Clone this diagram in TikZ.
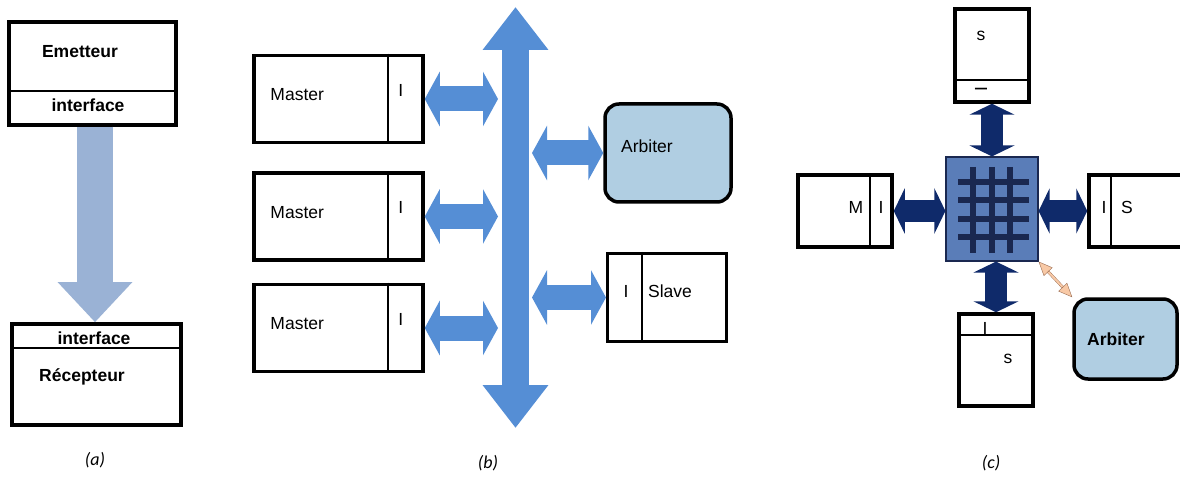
\documentclass[tikz,border=0pt]{standalone}
\usepackage{fontspec}
\setmainfont{Liberation Sans}
\newfontfamily\capfont{Carlito}
\usetikzlibrary{arrows.meta,positioning}

\definecolor{flowblue}{HTML}{9AB2D5}
\definecolor{busblue}{HTML}{558ED5}
\definecolor{arbblue}{HTML}{B0CEE2}
\definecolor{xbarblue}{HTML}{5A7DB8}
\definecolor{navy}{HTML}{0F2A6A}
\definecolor{barnavy}{HTML}{1A2850}
\definecolor{peach}{HTML}{F8C9A6}
\definecolor{tiebrown}{HTML}{9A6B50}

\begin{document}
\begin{tikzpicture}[x=1pt,y=-1pt]
    \tikzstyle{unit}=[draw,line width=3.5pt,inner sep=0pt]
    \tikzstyle{arb}=[unit,rounded corners=14pt,fill=arbblue]
    \tikzstyle{divider}=[line width=2pt]
    \tikzstyle{lbl}=[inner sep=0pt,font=\fontsize{17.5}{20}\selectfont]
    \tikzstyle{blbl}=[inner sep=0pt,font=\fontsize{17.5}{20}\selectfont\bfseries]
    \tikzstyle{subcap}=[font=\capfont\fontsize{18}{21}\selectfont\itshape]
    \tikzstyle{flow}=[draw=flowblue,line width=36pt,-{Triangle[length=40pt,width=72pt]}]
    \tikzstyle{bus}=[draw=busblue,line width=27pt,{Triangle[length=43pt,width=63pt]}-{Triangle[length=43pt,width=63pt]}]
    \tikzstyle{link}=[draw=busblue,line width=25pt,{Triangle[length=15pt,width=54pt]}-{Triangle[length=15pt,width=54pt]}]
    \tikzstyle{xlink}=[draw=navy,line width=22pt,{Triangle[length=11pt,width=45pt]}-{Triangle[length=11pt,width=45pt]}]
    \tikzstyle{bar}=[draw=barnavy,line width=6pt]
    \tikzstyle{tie}=[draw=tiebrown,double=peach,double distance=2pt,{Triangle[length=14pt,width=12pt,fill=peach]}-{Triangle[length=14pt,width=12pt,fill=peach]}]

    \useasboundingbox (0,0) rectangle (1180,478);

    % (a) point to point
    \begin{scope}
      \node[unit,minimum width=167pt,minimum height=103pt](emet) at (92.5,73.5){};
      \node[unit,minimum width=169pt,minimum height=101pt](recep) at (96.5,374.5){};
      \draw[divider] ([yshift=36pt]emet.south west) -- ([yshift=36pt]emet.south east);
      \draw[divider] ([yshift=-26pt]recep.north west) -- ([yshift=-26pt]recep.north east);
      \node[blbl](emetname) at (80,52){Emetteur};
      \node[blbl](emetif) at (88,105){interface};
      \node[blbl](recepif) at (94,338.5){interface};
      \node[blbl](recepname) at (82,377){Récepteur};

      \draw[flow] ([xshift=2.5pt]emet.south) -- ([xshift=2.5pt]emet.south |- recep.north);

      \node[subcap](capa) at (95,460){(a)};
    \end{scope}

    % (b) shared bus
    \begin{scope}
      \coordinate (bustop) at (515.5,7);
      \coordinate (busbot) at (515.5,428);
      \coordinate (busL) at (498,0);
      \coordinate (busR) at (532,0);
      \draw[bus] (bustop) -- (busbot);

      \node[unit,minimum width=169pt,minimum height=87pt](m1) at (338.5,99){};
      \node[unit,minimum width=169pt,minimum height=87pt,below=27pt of m1](m2){};
      \node[unit,minimum width=169pt,minimum height=87pt,below=21pt of m2](m3){};
      \foreach \m in {m1,m2,m3} {
        \draw[divider] ([xshift=-37pt]\m.north east) -- ([xshift=-37pt]\m.south east);
        \node[lbl,anchor=west,yshift=4pt](\m name) at ([xshift=18pt]\m.west){Master};
        \node[lbl,yshift=9pt](\m if) at ([xshift=-24pt]\m.east){I};
        \draw[link] (\m.east) -- (\m.east -| busL);
      }

      \node[arb,minimum width=126pt,minimum height=98pt](arbb) at (668,153){};
      \node[lbl,anchor=west](arbbname) at (621,146){Arbiter};
      \node[unit,line width=3pt,minimum width=119pt,minimum height=88pt](slave) at (667,297.5){};
      \draw[divider] ([xshift=35.5pt]slave.north west) -- ([xshift=35.5pt]slave.south west);
      \node[lbl](slaveif) at (626,291){I};
      \node[lbl](slavename) at (670,291){Slave};

      \draw[link] (arbb.west -| busR) -- (arbb.west);
      \draw[link] (slave.west -| busR) -- (slave.west);

      \node[subcap](capb) at (488,463){(b)};
    \end{scope}

    % (c) crossbar
    \begin{scope}
      \node[draw=barnavy,line width=1.2pt,fill=xbarblue,minimum width=92pt,minimum height=104pt](xbar) at (992,209){};
      \foreach \x in {973,992,1010}
        \draw[bar] (\x,167) -- (\x,253);
      \foreach \y in {182,200,219,237}
        \draw[bar] (958,\y) -- (1029,\y);

      \node[unit,minimum width=74pt,minimum height=93pt](topbox) at (992,55.5){};
      \draw[divider] ([yshift=24pt]topbox.south west) -- ([yshift=24pt]topbox.south east);
      \node[lbl](topname) at (981,36){s};
      \node[lbl,rotate=90](topif) at (981,89){I};

      \node[unit,minimum width=94pt,minimum height=72pt](lbox) at (845,211){};
      \draw[divider] ([xshift=-24pt]lbox.north east) -- ([xshift=-24pt]lbox.south east);
      \node[lbl](lname) at (856,207){M};
      \node[lbl](lif) at (881,207){I};

      \node[unit,minimum width=102pt,minimum height=72pt](rbox) at (1140,211){};
      \draw[divider] ([xshift=24pt]rbox.north west) -- ([xshift=24pt]rbox.south west);
      \node[lbl](rif) at (1104,207){I};
      \node[lbl](rname) at (1127,207){S};

      \node[unit,minimum width=74pt,minimum height=92pt](botbox) at (996,360){};
      \draw[divider] ([yshift=-23pt]botbox.north west) -- ([yshift=-23pt]botbox.north east);
      \node[lbl](botif) at (985,328){I};
      \node[lbl](botname) at (1008,359){s};

      \node[arb,minimum width=103pt,minimum height=80pt](arbc) at (1125.5,339){};
      \node[blbl,anchor=west](arbcname) at (1087,339){Arbiter};

      \draw[xlink] (topbox.south) -- (topbox.south |- xbar.north);
      \draw[xlink] (lbox.east) -- (lbox.east -| xbar.west);
      \draw[xlink] (xbar.east |- rbox.west) -- (rbox.west);
      \draw[xlink] (botbox.north |- xbar.south) -- (botbox.north);
      \draw[tie] (xbar.south east) -- (arbc.north west);

      \node[subcap](capc) at (991,463){(c)};
    \end{scope}
\end{tikzpicture}
\end{document}
